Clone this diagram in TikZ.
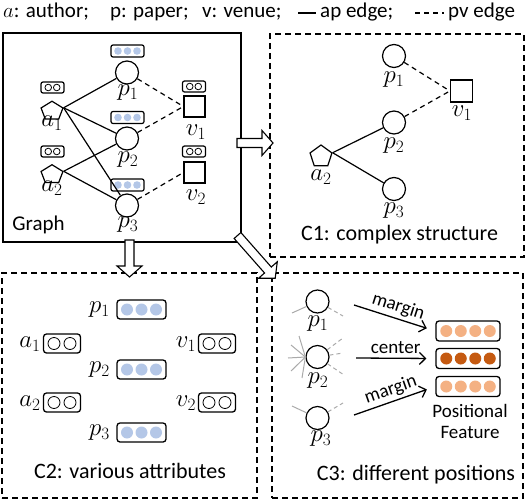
\documentclass[tikz,border=0pt]{standalone}
\usepackage{fontspec}
\setmainfont{Carlito}
\usetikzlibrary{shapes.geometric,arrows.meta,calc}
\definecolor{attrblue}{RGB}{180,199,231}
\definecolor{featlight}{RGB}{244,177,131}
\definecolor{featdark}{RGB}{197,90,17}
\definecolor{raygray}{RGB}{170,170,170}

\newcommand\dotrow[5]{%
  \foreach \k in {1,...,#2}{\path[#5] ($(#1.center)+({(\k-(#2+1)/2)*#3},0)$) circle (#4pt);}}
\newcommand\blockarr[4]{%
  \begin{scope}[shift={(#1,#2)}, rotate=#3]
    \draw[blockarrow] (0,4.5) -- ({#4-11},4.5) -- ({#4-11},12.5) -- (#4,0) -- ({#4-11},-12.5) -- ({#4-11},-4.5) -- (0,-4.5) -- cycle;
  \end{scope}}

\tikzset{
  pnode/.style={circle, draw, line width=1.2pt, minimum size=23pt, inner sep=0pt},
  anode/.style={regular polygon, regular polygon sides=5, draw, line width=1.2pt, minimum size=23pt, inner sep=0pt},
  vnode/.style={rectangle, draw, line width=1.2pt, minimum size=21pt, inner sep=0pt},
  mlabel/.style={font=\fontsize{24}{24}\selectfont, inner sep=0pt},
  txt/.style={font=\fontsize{22}{22}\selectfont, inner sep=0pt},
  legtxt/.style={font=\fontsize{21}{21}\selectfont, inner sep=0pt},
  smalltxt/.style={font=\fontsize{19}{19}\selectfont, inner sep=0pt},
  apedge/.style={line width=1.2pt},
  pvedge/.style={line width=1.2pt, dash pattern=on 5pt off 4pt},
  dpanel/.style={line width=1.2pt, dash pattern=on 6pt off 4pt},
  smallp/.style={draw, rounded corners=2pt, line width=1.2pt, minimum width=33pt, minimum height=12pt, inner sep=0pt},
  smallav/.style={draw, rounded corners=2pt, line width=1.2pt, minimum width=23pt, minimum height=11pt, inner sep=0pt},
  bigp/.style={draw, rounded corners=3pt, line width=1.3pt, minimum width=49pt, minimum height=19pt, inner sep=0pt},
  bigav/.style={draw, rounded corners=3pt, line width=1.3pt, minimum width=37pt, minimum height=19pt, inner sep=0pt},
  featbox/.style={draw, rounded corners=3pt, line width=1.3pt, minimum width=64pt, minimum height=20pt, inner sep=0pt},
  bluedot/.style={fill=attrblue},
  lightdot/.style={fill=featlight},
  darkdot/.style={fill=featdark},
  hollow/.style={draw, line width=0.8pt, fill=white},
  ray/.style={draw=raygray, line width=1pt},
  rayd/.style={draw=raygray, line width=1pt, dash pattern=on 4pt off 3pt},
  posarrow/.style={line width=1.3pt, -{Straight Barb[length=6pt,width=12pt]}},
  blockarrow/.style={draw, fill=white, line width=1.1pt},
}

\begin{document}
\begin{tikzpicture}[x=1pt, y=-1pt]
\useasboundingbox (0,0) rectangle (526,500);

% ---------- legend ----------
\node[legtxt, anchor=base west] (lga) at (3,18) {$a$: author;};
\node[legtxt, anchor=base west] (lgp) at (110,18) {p: paper;};
\node[legtxt, anchor=base west] (lgv) at (202,18) {v: venue;};
\coordinate (ls1) at (298,13); \coordinate (ls2) at (316,13);
\draw[apedge] (ls1) -- (ls2);
\node[legtxt, anchor=base west] (lgap) at (320,18) {ap edge;};
\coordinate (ld1) at (415,13); \coordinate (ld2) at (444,13);
\draw[pvedge] (ld1) -- (ld2);
\node[legtxt, anchor=base west] (lgpv) at (448,18) {pv edge};

% ---------- panels ----------
\node[draw, line width=1.2pt, minimum width=238pt, minimum height=209pt, inner sep=0pt] (graph) at (122,137.5) {};
\node[draw, dpanel, minimum width=254pt, minimum height=223pt, inner sep=0pt] (c1) at (397,145.5) {};
\node[draw, dpanel, minimum width=255pt, minimum height=225pt, inner sep=0pt] (c2) at (129.5,385.5) {};
\node[draw, dpanel, minimum width=251pt, minimum height=225pt, inner sep=0pt] (c3) at (397.5,385.5) {};

% ---------- Graph ----------
\node[pnode] (gp1) at (127,72.5) {};
\node[pnode] (gp2) at (127,138.5) {};
\node[pnode] (gp3) at (127,205.5) {};
\node[anode, yscale=0.85] (ga1) at (52,111) {};
\node[anode, yscale=0.85] (ga2) at (52,174.5) {};
\node[vnode] (gv1) at (194.5,106.5) {};
\node[vnode] (gv2) at (194.5,172.5) {};

\node[mlabel] (lgp1) at (128,93) {$p_1$};
\node[mlabel] (lgp2) at (128,159.5) {$p_2$};
\node[mlabel] (lgp3) at (128,224.5) {$p_3$};
\node[mlabel] (lga1) at (52,123.5) {$a_1$};
\node[mlabel] (lga2) at (52,188) {$a_2$};
\node[mlabel] (lgv1) at (196,132) {$v_1$};
\node[mlabel] (lgv2) at (196,197) {$v_2$};
\node[legtxt, anchor=base] (gtitle) at (38.5,230) {Graph};

\node[smallp] (gb1) at (127.5,51) {};
\node[smallp] (gb2) at (127.5,117.5) {};
\node[smallp] (gb3) at (127.5,185) {};
\dotrow{gb1}{3}{9.5}{3.8}{bluedot}
\dotrow{gb2}{3}{9.5}{3.8}{bluedot}
\dotrow{gb3}{3}{9.5}{3.8}{bluedot}
\node[smallav] (gba1) at (52.5,87.5) {};
\node[smallav] (gba2) at (52.5,151.5) {};
\node[smallav] (gbv1) at (194,86.5) {};
\node[smallav] (gbv2) at (194,151.5) {};
\dotrow{gba1}{2}{8.5}{3.3}{hollow}
\dotrow{gba2}{2}{8.5}{3.3}{hollow}
\dotrow{gbv1}{2}{8.5}{3.3}{hollow}
\dotrow{gbv2}{2}{8.5}{3.3}{hollow}

\draw[apedge] (ga1.corner 5) -- (gp1);
\draw[apedge] (ga1.corner 5) -- (gp2);
\draw[apedge] (ga1.corner 5) -- (gp3);
\draw[apedge] (ga2.corner 5) -- (gp2);
\draw[apedge] (ga2.corner 5) -- (gp3);
\draw[pvedge] (gp1) -- (gv1.west);
\draw[pvedge] (gp2) -- (gv1.west);
\draw[pvedge] (gp3) -- (gv2.west);

% ---------- C1 ----------
\node[pnode] (cp1) at (394,56) {};
\node[pnode] (cp2) at (394,122.5) {};
\node[pnode] (cp3) at (394,189) {};
\node[anode] (ca2) at (321,156.5) {};
\node[vnode, minimum size=22pt] (cv1) at (461.5,91) {};
\node[mlabel] (lcp1) at (394,80) {$p_1$};
\node[mlabel] (lcp2) at (394,146) {$p_2$};
\node[mlabel] (lcp3) at (394,211) {$p_3$};
\node[mlabel] (lca2) at (321,177) {$a_2$};
\node[mlabel] (lcv1) at (462,113) {$v_1$};
\draw[apedge] (ca2.corner 5) -- (cp2);
\draw[apedge] (ca2.corner 5) -- (cp3);
\draw[pvedge] (cp1) -- (cv1.west);
\draw[pvedge] (cp2) -- (cv1.west);
\node[txt, anchor=base] (c1title) at (399.5,240) {C1: complex structure};

% ---------- C2 ----------
\node[bigp] (bp1) at (141.5,309.5) {};
\node[bigp] (bp2) at (141.5,369.5) {};
\node[bigp] (bp3) at (141.5,432.5) {};
\dotrow{bp1}{3}{14.5}{6}{bluedot}
\dotrow{bp2}{3}{14.5}{6}{bluedot}
\dotrow{bp3}{3}{14.5}{6}{bluedot}
\node[bigav] (ba1) at (62,343.5) {};
\node[bigav] (ba2) at (62,402.5) {};
\node[bigav] (bv1) at (217,343.5) {};
\node[bigav] (bv2) at (217,402.5) {};
\dotrow{ba1}{2}{16}{6}{hollow}
\dotrow{ba2}{2}{16}{6}{hollow}
\dotrow{bv1}{2}{16}{6}{hollow}
\dotrow{bv2}{2}{16}{6}{hollow}
\node[mlabel] (lbp1) at (99.5,309.5) {$p_1$};
\node[mlabel] (lbp2) at (99.5,369.5) {$p_2$};
\node[mlabel] (lbp3) at (99.5,433) {$p_3$};
\node[mlabel] (lba1) at (30,344) {$a_1$};
\node[mlabel] (lba2) at (30,403) {$a_2$};
\node[mlabel] (lbv1) at (186,344) {$v_1$};
\node[mlabel] (lbv2) at (186,403) {$v_2$};
\node[txt, anchor=base] (c2title) at (130,478) {C2: various attributes};

% ---------- C3 ----------
\node[pnode] (tp1) at (317.5,301.5) {};
\node[pnode] (tp2) at (317.5,357) {};
\node[pnode] (tp3) at (317.5,418) {};
\node[mlabel] (ltp1) at (318,324) {$p_1$};
\node[mlabel] (ltp2) at (318,381) {$p_2$};
\node[mlabel] (ltp3) at (321,439) {$p_3$};

\draw[ray] (292,313) -- (tp1);
\draw[rayd] (tp1) -- (343,316);
\foreach \pt in {(288,358),(291,345),(299,336),(291,371),(302,378)}
  \draw[ray] \pt -- (tp2.west);
\draw[rayd] (tp2) -- (343,338);
\draw[rayd] (tp2) -- (343,353);
\draw[rayd] (tp2) -- (344,375);
\draw[ray] (292,406) -- (tp3);
\draw[rayd] (tp3) -- (343,403);

\node[featbox] (f1) at (468,331) {};
\node[featbox] (f2) at (468,358.5) {};
\node[featbox] (f3) at (468,386.5) {};
\dotrow{f1}{4}{14.5}{6}{lightdot}
\dotrow{f2}{4}{14.5}{6}{darkdot}
\dotrow{f3}{4}{14.5}{6}{lightdot}

\coordinate (m1s) at (354,305);
\coordinate (m2s) at (356,358);
\coordinate (m3s) at (354,415);
\draw[posarrow, shorten >=9pt] (m1s) -- (f1.west) node[smalltxt, midway, above=3pt, sloped] {margin};
\draw[posarrow, shorten >=9pt] (m2s) -- (f2.west) node[smalltxt, midway, above=4pt] {center};
\draw[posarrow, shorten >=9pt] (m3s) -- (f3.west) node[smalltxt, midway, above=3pt, sloped] {margin};

\node[smalltxt, anchor=base] (pos1) at (470,417) {Positional};
\node[smalltxt, anchor=base] (pos2) at (470,438) {Feature};
\node[txt, anchor=base] (c3title) at (416,480) {C3: different positions};

% ---------- block arrows ----------
\blockarr{237}{143}{0}{36}
\blockarr{129.5}{240}{-90}{37}
\blockarr{237.5}{235.5}{-48.6}{57}
\end{tikzpicture}
\end{document}
